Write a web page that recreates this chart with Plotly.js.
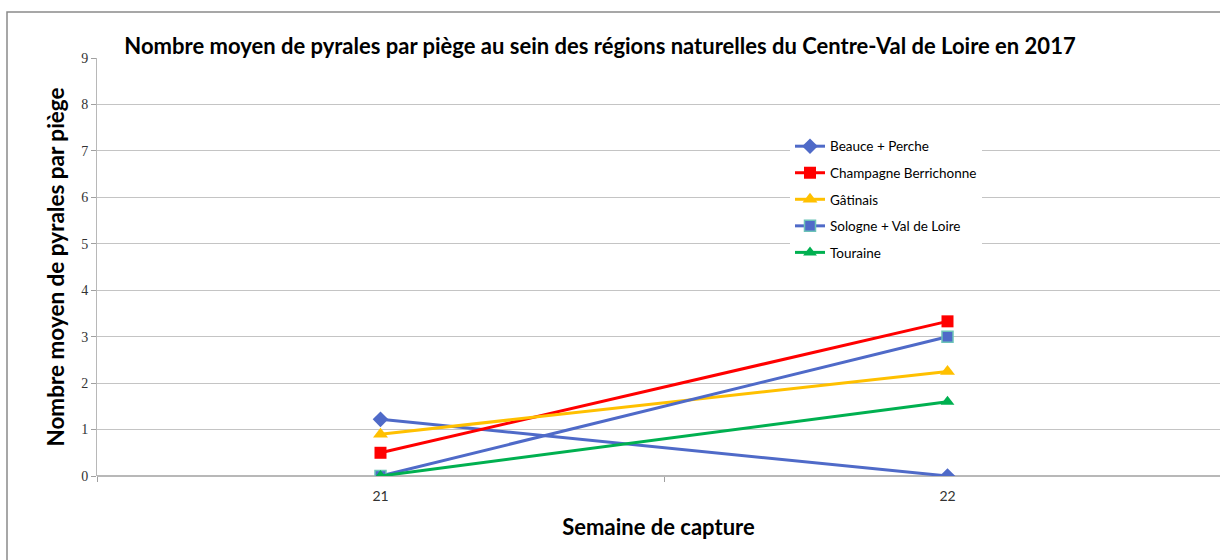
<!DOCTYPE html>
<html>
<head>
<meta charset="utf-8">
<script src="https://cdn.plot.ly/plotly-3.0.1.min.js"></script>
<style>html,body{margin:0;padding:0;background:#fff;}#chart{width:1220px;height:560px;}</style>
</head>
<body>
<div id="chart"></div>
<script>
const weeks = ["21", "22"];
const seriesNames = ["Beauce + Perche", "Champagne Berrichonne", "Gâtinais", "Sologne + Val de Loire", "Touraine"];
const beauce = [1.22, 0];
const champagne = [0.5, 3.33];
const gatinais = [0.9, 2.25];
const sologne = [0, 3.0];
const touraine = [0, 1.6];
const yTicks = [0, 1, 2, 3, 4, 5, 6, 7, 8, 9];

const styles = [
  {color: "#4F6AC8", symbol: "diamond", size: 12, line: {width: 0}},
  {color: "#FF0000", symbol: "square", size: 12, line: {width: 0}},
  {color: "#FFC000", symbol: "triangle-up", size: 13, line: {width: 0}},
  {color: "#4F6AC8", symbol: "square", size: 11, line: {width: 1.5, color: "#6CC3B8"}},
  {color: "#00B050", symbol: "triangle-up", size: 12, line: {width: 0}}
];
const values = [beauce, champagne, gatinais, sologne, touraine];

const traces = values.map((v, i) => ({
  x: weeks,
  y: v,
  name: seriesNames[i],
  type: "scatter",
  mode: "lines+markers",
  legendgroup: "g" + i,
  line: {color: styles[i].color, width: 3},
  marker: {color: styles[i].color, symbol: styles[i].symbol, size: styles[i].size, line: styles[i].line}
}));

const pLeft = 97, pRight = 1220, pTop = 58, pBottom = 476.5;
const pw = pRight - pLeft, ph = pBottom - pTop;
const sans = "Lato, 'Open Sans', sans-serif";

const layout = {
  width: 1220, height: 560,
  paper_bgcolor: "#ffffff", plot_bgcolor: "#ffffff",
  margin: {l: pLeft, r: 0, t: pTop, b: 560 - pBottom, pad: 0},
  showlegend: true,
  title: {
    text: "Nombre moyen de pyrales par piège au sein des régions naturelles du Centre-Val de Loire en 2017",
    font: {family: sans, size: 22, color: "#000", weight: "bold"},
    x: 600 / 1220, xanchor: "center", xref: "container",
    y: 1 - 46 / 560, yanchor: "middle", yref: "container"
  },
  xaxis: {
    type: "category",
    range: [-0.5, -0.5 + pw / 567],
    tickson: "boundaries",
    ticks: "outside", ticklen: 5, tickcolor: "#a0a0a0",
    ticklabelstandoff: 10,
    showgrid: false, showline: false, zeroline: false,
    tickfont: {family: sans, size: 14, color: "#333"},
    title: {text: "Semaine de capture", font: {family: sans, size: 22, color: "#000", weight: "bold"}, standoff: 16},
    fixedrange: true
  },
  yaxis: {
    range: [0, 9],
    tickvals: yTicks,
    ticks: "outside", ticklen: 5, tickcolor: "#a0a0a0",
    showgrid: true, gridcolor: "#c4c4c4", gridwidth: 1.2,
    zeroline: true, zerolinecolor: "#b8b8b8", zerolinewidth: 1.5,
    showline: true, linecolor: "#b8b8b8", linewidth: 1,
    tickfont: {family: "'Liberation Serif', 'DejaVu Serif', serif", size: 14, color: "#333"},
    title: {text: "Nombre moyen de pyrales par piège", font: {family: sans, size: 22.5, color: "#000", weight: "bold"}, standoff: 10},
    fixedrange: true
  },
  legend: {
    x: (790 - pLeft) / pw, xanchor: "left",
    y: (pBottom - 131) / ph, yanchor: "top",
    bgcolor: "#ffffff", borderwidth: 0,
    font: {family: sans, size: 13.5, color: "#000"},
    traceorder: "grouped", tracegroupgap: 6,
    itemwidth: 30
  },
  shapes: [{
    type: "rect", xref: "paper", yref: "paper",
    x0: (7 - pLeft) / pw, x1: 1.1,
    y0: -0.5, y1: (pBottom - 12) / ph,
    line: {color: "#8a8a8a", width: 1.5}, fillcolor: "rgba(0,0,0,0)", layer: "below"
  }]
};

Plotly.newPlot("chart", traces, layout, {displayModeBar: false, staticPlot: true});
</script>
</body>
</html>
